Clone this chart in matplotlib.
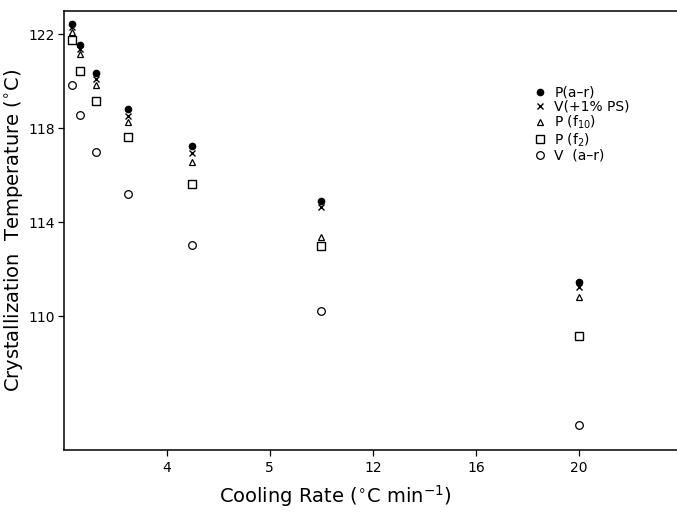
import numpy as np
import matplotlib.pyplot as plt

rate = [0.31, 0.62, 1.25, 2.5, 5, 10, 20]
p_ar = [122.44, 121.54, 120.34, 118.82, 117.26, 114.92, 111.45]
v_ps = [122.30, 121.36, 120.10, 118.52, 116.96, 114.66, 111.26]
p_f10 = [122.09, 121.15, 119.84, 118.28, 116.58, 113.36, 110.83]
p_f2 = [121.76, 120.44, 119.16, 117.64, 115.62, 112.99, 109.17]
v_ar = [119.84, 118.58, 117.00, 115.23, 113.03, 110.22, 105.40]

x_ticks = [4, 8, 12, 16, 20]
x_ticklabels = ['4', '5', '12', '16', '20']
y_ticks = [110, 114, 118, 122]

fig = plt.figure(figsize=(6.77, 5.16), dpi=100)
ax = fig.add_axes([0.094, 0.127, 0.906, 0.852])

series = [
    (p_ar, dict(marker='o', ms=4.5, mfc='black', mec='black'), 'P(a–r)'),
    (v_ps, dict(marker='x', ms=4, mew=1.0, color='black'), 'V(+1% PS)'),
    (p_f10, dict(marker='^', ms=5, mfc='white', mec='black', mew=0.9), r'P (f$\mathregular{_{10}}$)'),
    (p_f2, dict(marker='s', ms=6, mfc='white', mec='black', mew=1.0), r'P (f$\mathregular{_2}$)'),
    (v_ar, dict(marker='o', ms=5.5, mfc='white', mec='black', mew=0.9), 'V  (a–r)'),
]
for vals, style, label in series:
    ax.plot(rate, vals, linestyle='none', label=label, **style)

ax.set_xlim(0, 23.8)
ax.set_ylim(104.3, 123.0)
ax.set_xticks(x_ticks)
ax.set_xticklabels(x_ticklabels)
ax.set_yticks(y_ticks)
ax.tick_params(direction='out', length=4, width=0.9, labelsize=10, colors='black')
ax.tick_params(axis='y', pad=2)
ax.spines['right'].set_visible(False)
for s in ['left', 'bottom', 'top']:
    ax.spines[s].set_linewidth(1.1)

ax.set_xlabel(r'Cooling Rate ($\mathregular{^{\circ}}$C min$\mathregular{^{-1}}$)', fontsize=14, labelpad=6)
ax.xaxis.label.set_x(0.443)
ax.set_ylabel(r'Crystallization  Temperature ($\mathregular{^{\circ}}$C)', fontsize=14, labelpad=3)

ax.legend(loc='upper left', bbox_to_anchor=(0.757, 0.845), frameon=False, fontsize=10,
          handlelength=0.8, handletextpad=0.6, labelspacing=0.0, borderpad=0)

fig.savefig('out.png', dpi=100)
